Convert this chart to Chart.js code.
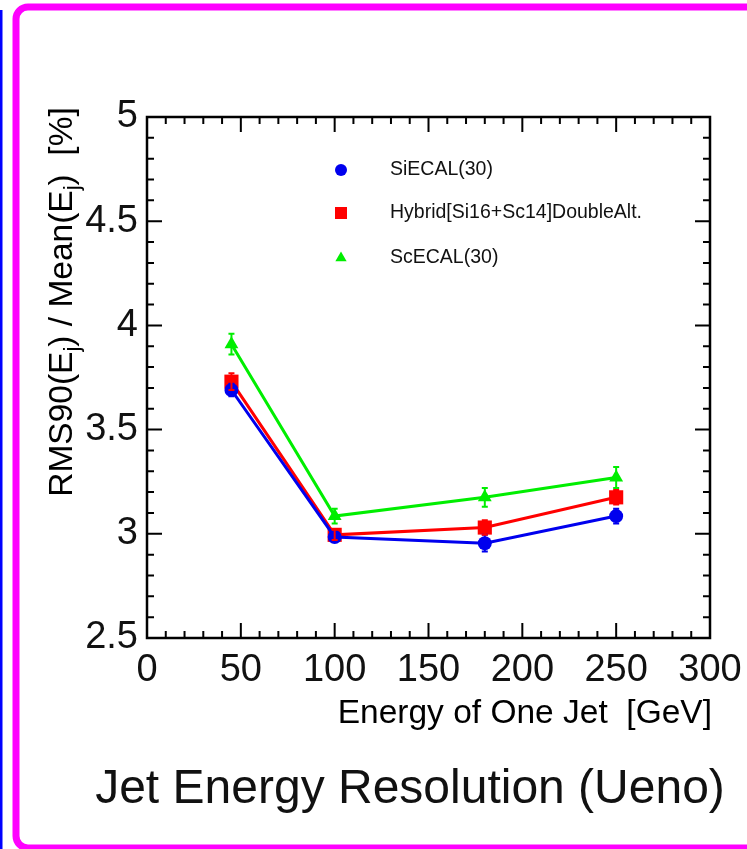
<!DOCTYPE html>
<html>
<head>
<meta charset="utf-8">
<script src="https://cdn.jsdelivr.net/npm/chart.js@4.4.0/dist/chart.umd.min.js"></script>
<style>
html, body { margin: 0; padding: 0; background: #fff; }
canvas { display: block; }
</style>
</head>
<body>
<canvas id="myChart" width="747" height="849"></canvas>
<script>
// dati
var energies = [45, 100, 180, 250];
var siecal = [3.69, 2.985, 2.955, 3.085];
var siecalErr = [0.03, 0.02, 0.04, 0.035];
var hybrid = [3.73, 2.995, 3.03, 3.175];
var hybridErr = [0.04, 0.025, 0.035, 0.035];
var scecal = [3.91, 3.085, 3.175, 3.27];
var scecalErr = [0.05, 0.035, 0.045, 0.05];
var seriesLabels = ['SiECAL(30)', 'Hybrid[Si16+Sc14]DoubleAlt.', 'ScECAL(30)'];
var xTicks = [0, 50, 100, 150, 200, 250, 300];
var yTicks = [2.5, 3, 3.5, 4, 4.5, 5];
var xMinorStep = 10;
var yMinorStep = 0.1;

var FONT = "'Liberation Sans', Arial, Helvetica, sans-serif";

function punti(xs, ys) {
    var out = [];
    for (var i = 0; i < xs.length; i++) {
        out.push({ x: xs[i], y: ys[i] });
    }
    return out;
}

function serie(label, valori, errori, colore, stile, raggio) {
    return {
        label: label,
        data: punti(energies, valori),
        errori: errori,
        borderColor: colore,
        backgroundColor: colore,
        borderWidth: 3,
        pointStyle: stile,
        pointRadius: raggio,
        pointBorderWidth: 0,
        tension: 0,
        fill: false
    };
}

// cornice magenta e linea blu della slide
var sfondo = {
    id: 'sfondo',
    beforeDraw: function(chart) {
        var ctx = chart.ctx;
        ctx.save();
        ctx.fillStyle = '#fff';
        ctx.fillRect(0, 0, chart.width, chart.height);
        ctx.fillStyle = '#0000ff';
        ctx.fillRect(0, 10, 2.5, chart.height - 10);
        ctx.strokeStyle = '#ff00ff';
        ctx.lineWidth = 7;
        ctx.beginPath();
        ctx.roundRect(16, 7, 780, 841, 12);
        ctx.stroke();
        ctx.restore();
    }
};

// barre di errore verticali
var barreErrore = {
    id: 'barreErrore',
    afterDatasetsDraw: function(chart) {
        var ctx = chart.ctx;
        var xs = chart.scales.x, ys = chart.scales.y;
        ctx.save();
        chart.data.datasets.forEach(function(ds) {
            ctx.strokeStyle = ds.borderColor;
            ctx.lineWidth = 2;
            ds.data.forEach(function(p, i) {
                var px = xs.getPixelForValue(p.x);
                var y1 = ys.getPixelForValue(p.y + ds.errori[i]);
                var y2 = ys.getPixelForValue(p.y - ds.errori[i]);
                ctx.beginPath();
                ctx.moveTo(px, y1); ctx.lineTo(px, y2);
                ctx.moveTo(px - 3, y1); ctx.lineTo(px + 3, y1);
                ctx.moveTo(px - 3, y2); ctx.lineTo(px + 3, y2);
                ctx.stroke();
            });
        });
        ctx.restore();
    }
};

// riquadro con tacche su tutti e quattro i lati
var riquadro = {
    id: 'riquadro',
    afterDatasetsDraw: function(chart) {
        var ctx = chart.ctx;
        var a = chart.chartArea;
        var xs = chart.scales.x, ys = chart.scales.y;
        ctx.save();
        ctx.strokeStyle = '#000';
        ctx.lineWidth = 2;
        ctx.beginPath();
        var v, px, lung, k;
        for (k = 0; k * xMinorStep <= xs.max - xs.min + 1e-9; k++) {
            v = xs.min + k * xMinorStep;
            px = xs.getPixelForValue(v);
            lung = (k % 5 === 0) ? 15 : 7;
            ctx.moveTo(px, a.bottom); ctx.lineTo(px, a.bottom - lung);
            ctx.moveTo(px, a.top); ctx.lineTo(px, a.top + lung);
        }
        for (k = 0; k * yMinorStep <= ys.max - ys.min + 1e-9; k++) {
            v = ys.min + k * yMinorStep;
            px = ys.getPixelForValue(v);
            lung = (k % 5 === 0) ? 15 : 7;
            ctx.moveTo(a.left, px); ctx.lineTo(a.left + lung, px);
            ctx.moveTo(a.right, px); ctx.lineTo(a.right - lung, px);
        }
        ctx.stroke();
        ctx.lineWidth = 2.5;
        ctx.strokeRect(a.left, a.top, a.right - a.left, a.bottom - a.top);
        ctx.restore();
    }
};

// legenda, titoli degli assi e titolo in basso
var testi = {
    id: 'testi',
    afterDraw: function(chart) {
        var ctx = chart.ctx;
        ctx.save();
        ctx.fillStyle = '#000';

        // legenda
        var righe = [170, 213, 258];
        chart.data.datasets.forEach(function(ds, i) {
            ctx.fillStyle = ds.backgroundColor;
            ctx.strokeStyle = ds.borderColor;
            Chart.helpers.drawPoint(ctx, {
                pointStyle: ds.pointStyle,
                radius: ds.pointStyle === 'rect' ? 8.5 : (ds.pointStyle === 'triangle' ? 6.5 : 6),
                borderWidth: 0,
                rotation: 0
            }, 341, righe[i]);
            ctx.fillStyle = '#111';
            ctx.font = '19.5px ' + FONT;
            ctx.textAlign = 'left';
            ctx.textBaseline = 'middle';
            ctx.fillText(ds.label, 390, righe[i]);
        });

        // titolo asse x
        ctx.fillStyle = '#000';
        ctx.font = '33.5px ' + FONT;
        ctx.textAlign = 'right';
        ctx.textBaseline = 'alphabetic';
        ctx.fillText('Energy of One Jet  [GeV]', 712, 723);

        // titolo asse y con pedici
        var parti = [['RMS90(E', 0], ['j', 1], [') / Mean(E', 0], ['j', 1], [')  [%]', 0]];
        var totale = 0;
        parti.forEach(function(p) {
            ctx.font = (p[1] ? '22px ' : '33.5px ') + FONT;
            p.push(ctx.measureText(p[0]).width);
            totale += p[2];
        });
        ctx.translate(72, 302);
        ctx.rotate(-Math.PI / 2);
        ctx.textAlign = 'left';
        var pos = -totale / 2;
        parti.forEach(function(p) {
            ctx.font = (p[1] ? '22px ' : '33.5px ') + FONT;
            ctx.fillText(p[0], pos, p[1] ? 7 : 0);
            pos += p[2];
        });
        ctx.setTransform(1, 0, 0, 1, 0, 0);

        // titolo della slide
        ctx.font = '48px ' + FONT;
        ctx.textAlign = 'center';
        ctx.fillStyle = '#111';
        ctx.fillText('Jet Energy Resolution (Ueno)', 410, 803);
        ctx.restore();
    }
};

var ctx = document.getElementById('myChart').getContext('2d');
var myChart = new Chart(ctx, {
    type: 'line',
    data: {
        datasets: [
            serie(seriesLabels[0], siecal, siecalErr, '#0000ee', 'circle', 7),
            serie(seriesLabels[1], hybrid, hybridErr, '#ff0000', 'rect', 10),
            serie(seriesLabels[2], scecal, scecalErr, '#00ee00', 'triangle', 8)
        ]
    },
    options: {
        responsive: false,
        devicePixelRatio: 1,
        animation: false,
        layout: { padding: { top: 117, right: 37, left: 0, bottom: 0 } },
        plugins: {
            legend: { display: false },
            tooltip: { enabled: false },
            title: { display: false }
        },
        scales: {
            x: {
                type: 'linear',
                min: 0,
                max: 300,
                afterBuildTicks: function(s) {
                    s.ticks = xTicks.map(function(v) { return { value: v }; });
                },
                afterFit: function(s) {
                    s.height = 211;
                    s.paddingLeft = 0;
                    s.paddingRight = 0;
                },
                grid: { display: false, drawTicks: false },
                border: { display: false },
                ticks: {
                    font: { family: FONT, size: 38 },
                    color: '#111',
                    padding: 10,
                    maxRotation: 0,
                    autoSkip: false,
                    callback: function(v) { return String(v); }
                }
            },
            y: {
                min: 2.5,
                max: 5,
                afterBuildTicks: function(s) {
                    s.ticks = yTicks.map(function(v) { return { value: v }; });
                },
                afterFit: function(s) {
                    s.width = 147;
                    s.paddingTop = 0;
                    s.paddingBottom = 0;
                },
                grid: { display: false, drawTicks: false },
                border: { display: false },
                ticks: {
                    font: { family: FONT, size: 38 },
                    color: '#111',
                    padding: 9,
                    autoSkip: false,
                    callback: function(v) { return String(v); }
                }
            }
        }
    },
    plugins: [sfondo, barreErrore, riquadro, testi]
});
</script>
</body>
</html>
